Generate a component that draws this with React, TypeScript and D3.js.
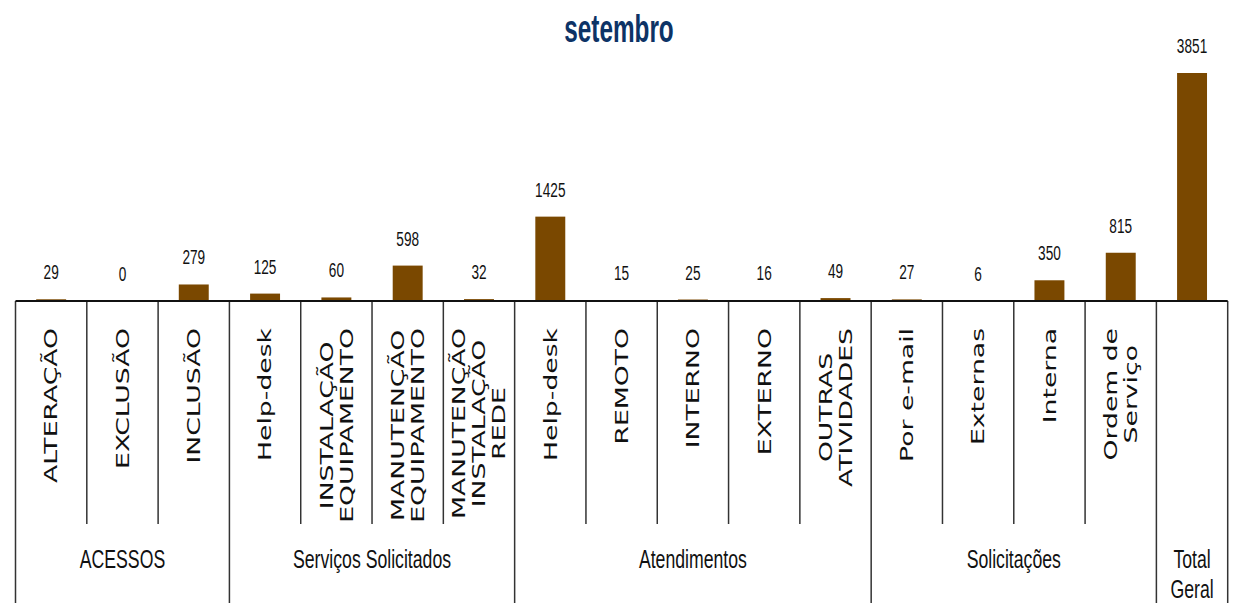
import React, { useEffect, useRef } from 'react';
import * as d3 from 'd3';

const title = 'setembro';
const categoryLabels: string[][] = [
  ['ALTERAÇÃO'], ['EXCLUSÃO'], ['INCLUSÃO'],
  ['Help-desk'], ['INSTALAÇÃO', 'EQUIPAMENTO'], ['MANUTENÇÃO', 'EQUIPAMENTO'], ['MANUTENÇÃO', 'INSTALAÇÃO', 'REDE'],
  ['Help-desk'], ['REMOTO'], ['INTERNO'], ['EXTERNO'], ['OUTRAS', 'ATIVIDADES'],
  ['Por e-mail'], ['Externas'], ['Interna'], ['Ordem de', 'Serviço'],
  [],
];
const values = [29, 0, 279, 125, 60, 598, 32, 1425, 15, 25, 16, 49, 27, 6, 350, 815, 3851];
const groupLabels: string[][] = [['ACESSOS'], ['Serviços Solicitados'], ['Atendimentos'], ['Solicitações'], ['Total', 'Geral']];
const groupStarts = [0, 3, 7, 12, 16];
const groupEnds = [3, 7, 12, 16, 17];

const W = 1248;
const H = 603;
const BAR = '#7A4800';

export default function App() {
  const ref = useRef<SVGSVGElement>(null);

  useEffect(() => {
    const svg = d3.select(ref.current);
    svg.selectAll('*').remove();

    const left = 15.5;
    const right = 1227.7;
    const baseY = 301;
    const n = values.length;
    const idx = d3.range(n).map(String);

    const x = d3.scaleBand<string>().domain(idx).range([left, right]).paddingInner(0.58).paddingOuter(0.29);
    const edge = d3.scaleLinear().domain([0, n]).range([left, right]);
    const y = d3.scaleLinear().domain([0, 3851]).range([baseY, 73]);

    // title
    svg.append('text')
      .attr('transform', `translate(619,42) scale(0.64,1)`)
      .attr('text-anchor', 'middle')
      .attr('font-family', 'Liberation Sans, Arial, sans-serif')
      .attr('font-weight', 'bold')
      .attr('font-size', 38)
      .attr('fill', '#0D3366')
      .text(title);

    // bars
    svg.append('g').selectAll('rect').data(values).join('rect')
      .attr('x', (_, i) => x(String(i))!)
      .attr('width', x.bandwidth())
      .attr('y', d => y(d))
      .attr('height', d => baseY - y(d))
      .attr('fill', BAR);

    // value labels
    svg.append('g').selectAll('text').data(values).join('text')
      .attr('transform', (d, i) => `translate(${x(String(i))! + x.bandwidth() / 2},${y(d) - 20}) scale(0.65,1)`)
      .attr('text-anchor', 'middle')
      .attr('font-family', 'Liberation Sans, Arial, sans-serif')
      .attr('font-size', 21)
      .attr('fill', '#111')
      .text(d => String(d));

    // separators
    const groupEdgeSet = new Set<number>([...groupStarts, ...groupEnds]);
    const sep = svg.append('g');
    d3.range(n + 1).forEach(i => {
      const isGroup = groupEdgeSet.has(i);
      sep.append('line')
        .attr('x1', edge(i)).attr('x2', edge(i))
        .attr('y1', baseY).attr('y2', isGroup ? H : 524)
        .attr('stroke', '#333').attr('stroke-width', 1.5);
    });
    // axis line
    svg.append('line')
      .attr('x1', left).attr('x2', right)
      .attr('y1', baseY).attr('y2', baseY)
      .attr('stroke', '#111').attr('stroke-width', 2);

    // category labels (rotated, stretched along the text)
    const stretch = 1.55;
    const catG = svg.append('g');
    categoryLabels.forEach((lines, i) => {
      if (!lines.length) return;
      const cx = x(String(i))! + x.bandwidth() / 2;
      const nodes = lines.map((line, j) => {
        const off = (j - (lines.length - 1) / 2) * 20;
        return catG.append('text')
          .attr('font-family', 'DejaVu Sans, Verdana, sans-serif')
          .attr('font-size', 17.2)
          .attr('fill', '#111')
          .attr('text-anchor', 'middle')
          .attr('data-x', cx + off + 6.3)
          .text(line);
      });
      const maxLen = (d3.max(nodes, t => (t.node() as SVGTextElement).getComputedTextLength()) || 0) * stretch;
      const cy = 328 + maxLen / 2;
      nodes.forEach(t => {
        const tx = +t.attr('data-x');
        t.attr('transform', `translate(${tx},${cy}) rotate(-90) scale(${stretch},1)`);
      });
    });

    // group labels
    const grpG = svg.append('g');
    groupLabels.forEach((lines, g) => {
      const cx = (edge(groupStarts[g]) + edge(groupEnds[g])) / 2;
      lines.forEach((line, j) => {
        grpG.append('text')
          .attr('transform', `translate(${cx},${568 + j * 30}) scale(0.68,1)`)
          .attr('text-anchor', 'middle')
          .attr('font-family', 'Liberation Sans, Arial, sans-serif')
          .attr('font-size', 26)
          .attr('fill', '#111')
          .text(line);
      });
    });
  }, []);

  return (
    <svg
      ref={ref}
      width={W}
      height={H}
      style={{ position: 'absolute', left: 0, top: 0, display: 'block', background: '#fff' }}
    />
  );
}
